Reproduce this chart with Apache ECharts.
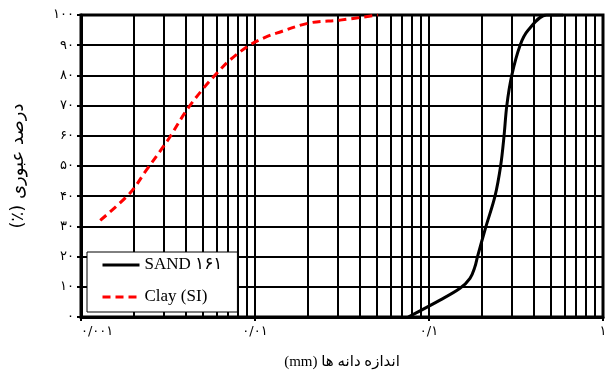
<!DOCTYPE html>
<html>
<head>
<meta charset="utf-8">
<script src="https://cdn.jsdelivr.net/npm/echarts@6/dist/echarts.min.js"></script>
<style>
  html, body { margin: 0; padding: 0; background: #fff; }
  #main { width: 610px; height: 376px; }
</style>
</head>
<body>
<div id="main"></div>
<script>
  // دانه بندی - grain size (mm) vs passing percent
  var sandSize = [0.076, 0.1157, 0.1507, 0.172, 0.1838, 0.190, 0.2126, 0.2395, 0.258, 0.270, 0.280, 0.299, 0.334, 0.372, 0.474, 0.59];
  var sandPass = [0, 5.6, 9.5, 12.8, 16.7, 20, 30, 40, 50, 60, 70, 80, 90, 95, 100, 100];
  var claySize = [0.00129, 0.00191, 0.00238, 0.00297, 0.00325, 0.00405, 0.00505, 0.00603, 0.00718, 0.00936, 0.01167, 0.0133, 0.0207, 0.0308, 0.0509];
  var clayPass = [32, 41, 48.7, 56.4, 59.7, 68.5, 75.7, 80.7, 85.1, 90.1, 92.8, 94, 97.4, 98.3, 100];

  var xTickVals = [0.001, 0.01, 0.1, 1];
  var xTickLabels = ["۰/۰۰۱", "۰/۰۱", "۰/۱", "۱"];
  var yTickLabels = ["۰", "۱۰", "۲۰", "۳۰", "۴۰", "۵۰", "۶۰", "۷۰", "۸۰", "۹۰", "۱۰۰"];
  // minor log grid lines (2..9 in each decade)
  var minorGrid = [];
  [0.001, 0.01, 0.1].forEach(function (d) {
    for (var k = 2; k <= 9; k++) minorGrid.push(+(d * k).toPrecision(3));
  });

  var persianFont = "'DejaVu Sans', sans-serif";
  var serifFont = "'Liberation Serif', 'DejaVu Sans', serif";

  function pairs(xs, ys) {
    return xs.map(function (x, i) { return [x, ys[i]]; });
  }

  var myChart = echarts.init(document.getElementById("main"));
  var option = {
    animation: false,
    backgroundColor: "#fff",
    grid: {
      left: 81, right: 7, top: 15, bottom: 59,
      show: true, borderColor: "#000", borderWidth: 3
    },
    legend: {
      data: ["SAND ۱۶۱", "Clay (SI)"],
      orient: "vertical",
      left: 87, top: 252,
      z: 10,
      backgroundColor: "#fff",
      borderColor: "#000",
      borderWidth: 1,
      padding: [4, 15, 6, 14],
      itemWidth: 37,
      itemHeight: 18,
      itemGap: 14,
      itemTextGap: 5,
      itemStyle: { color: "rgba(0,0,0,0)", borderWidth: 0, opacity: 0 },
      lineStyle: { width: 3 },
      textStyle: { fontFamily: serifFont, fontSize: 17, color: "#000", lineHeight: 18 }
    },
    xAxis: {
      type: "log",
      logBase: 10,
      min: 0.001,
      max: 1,
      name: "\u202Bاندازه دانه ها (mm)\u202C",
      nameLocation: "middle",
      nameGap: 38,
      nameTextStyle: { fontFamily: serifFont, fontSize: 15, color: "#000" },
      axisLine: { lineStyle: { color: "#000", width: 3 } },
      axisTick: { show: true, length: 4, lineStyle: { color: "#000", width: 2 } },
      axisLabel: {
        margin: 8,
        fontFamily: persianFont, fontSize: 13, color: "#000",
        alignMinLabel: "left",
        formatter: function (v) {
          for (var i = 0; i < xTickVals.length; i++) {
            if (Math.abs(Math.log10(v) - Math.log10(xTickVals[i])) < 0.01) return xTickLabels[i];
          }
          return "";
        }
      },
      splitLine: { show: true, lineStyle: { color: "#000", width: 2 } }
    },
    yAxis: {
      type: "value",
      min: 0,
      max: 100,
      interval: 10,
      name: "درصد عبوری (٪)\u200F",
      nameLocation: "middle",
      nameGap: 54,
      nameTextStyle: { fontFamily: persianFont, fontSize: 18, color: "#000" },
      axisLine: { show: true, lineStyle: { color: "#000", width: 3 } },
      axisTick: { show: true, length: 4, lineStyle: { color: "#000", width: 2 } },
      axisLabel: {
        margin: 7,
        fontFamily: persianFont, fontSize: 13, color: "#000",
        formatter: function (v) { return yTickLabels[Math.round(v / 10)]; }
      },
      splitLine: { show: true, lineStyle: { color: "#000", width: 2 } }
    },
    series: [
      {
        name: "minor",
        type: "line",
        data: [],
        z: 1,
        silent: true,
        markLine: {
          z: 1,
          silent: true,
          symbol: "none",
          label: { show: false },
          lineStyle: { color: "#000", width: 2, type: "solid" },
          data: minorGrid.map(function (v) {
            return [{ coord: [v, 0] }, { coord: [v, 100] }];
          })
        }
      },
      {
        name: "SAND ۱۶۱",
        type: "line",
        z: 5,
        smooth: 0.35,
        showSymbol: false,
        symbol: "none",
        color: "#000",
        lineStyle: { color: "#000", width: 3 },
        data: pairs(sandSize, sandPass)
      },
      {
        name: "Clay (SI)",
        type: "line",
        z: 5,
        smooth: 0.35,
        showSymbol: false,
        symbol: "none",
        color: "#ff0000",
        lineStyle: { color: "#ff0000", width: 3, type: [8, 5] },
        data: pairs(claySize, clayPass)
      }
    ]
  };
  myChart.setOption(option);
</script>
</body>
</html>
